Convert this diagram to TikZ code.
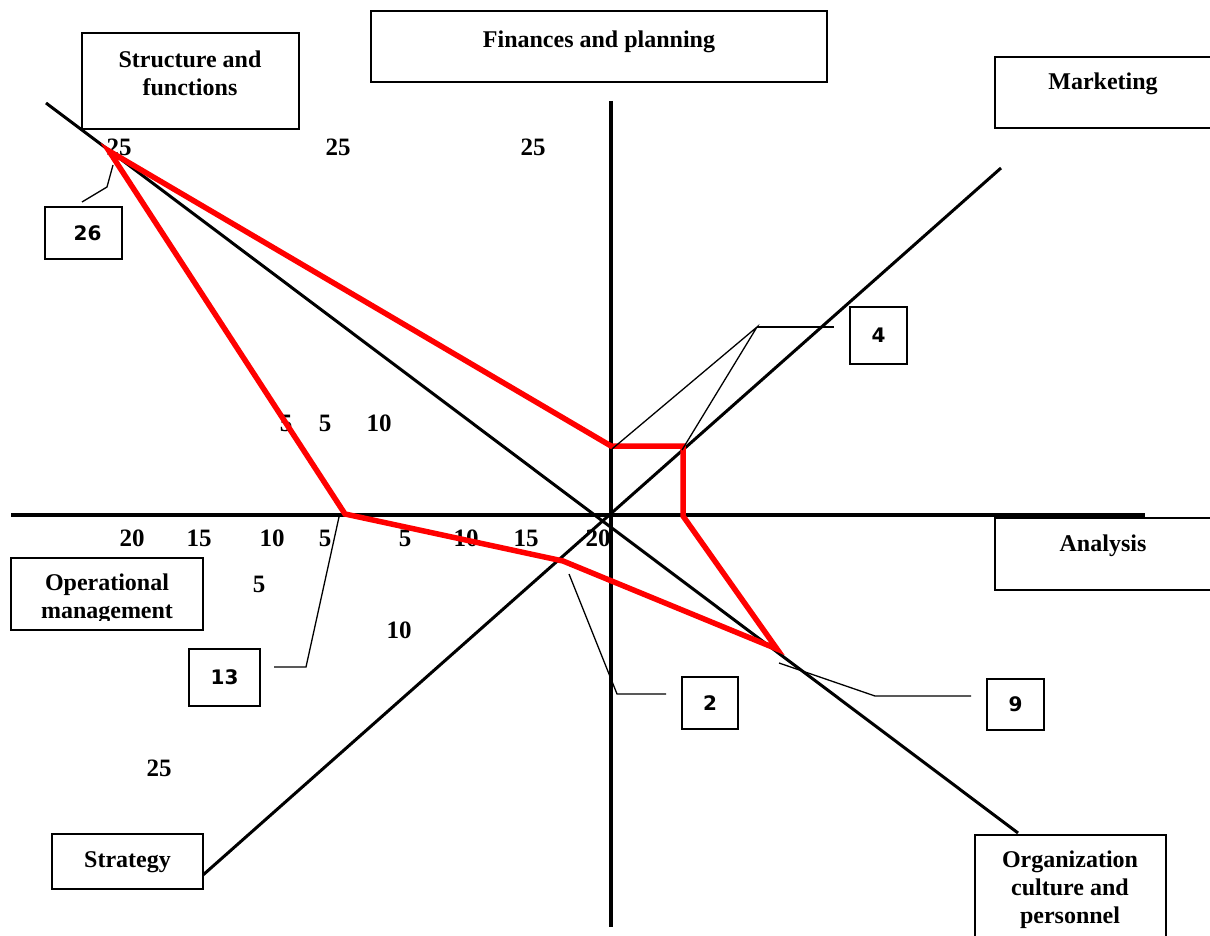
\documentclass[tikz,border=0pt]{standalone}
\usepackage{fontspec}
\setmainfont{Liberation Serif}
\newfontfamily\boxnumfont{DejaVu Sans}
\begin{document}
\begin{tikzpicture}[x=1pt,y=-1pt,
  box/.style={draw, line width=1.8pt, inner sep=0pt, fill=none},
  boxtxt/.style={inner sep=0pt, align=center, font=\fontsize{24}{28}\selectfont\bfseries},
  numtxt/.style={inner sep=0pt, font=\fontsize{25}{28}\selectfont\bfseries},
  smallbox/.style={draw, line width=1.6pt, inner sep=0pt, font=\boxnumfont\fontsize{20}{22}\selectfont\bfseries},
  axisline/.style={draw=black, line width=3.4pt},
  diag/.style={draw=black, line width=3pt},
  redline/.style={draw=red, line width=5.5pt, line join=miter},
  callout/.style={draw=black, line width=1.3pt}
]
\useasboundingbox (0,0) rectangle (1210,936);
\fill[white] (0,0) rectangle (1210,936);

% ---- scale numbers ----
\node[numtxt] (n25a) at (119,147) {25};
\node[numtxt] (n25b) at (338,147) {25};
\node[numtxt] (n25c) at (533,147) {25};
\node[numtxt] (n5a) at (286,423) {5};
\node[numtxt] (n5b) at (325,423) {5};
\node[numtxt] (n10a) at (379,423) {10};
\node[numtxt] (h20l) at (132,538) {20};
\node[numtxt] (h15l) at (199,538) {15};
\node[numtxt] (h10l) at (272,538) {10};
\node[numtxt] (h5l) at (325,538) {5};
\node[numtxt] (h5r) at (405,538) {5};
\node[numtxt] (h10r) at (466,538) {10};
\node[numtxt] (h15r) at (526,538) {15};
\node[numtxt] (h20r) at (598,538) {20};
\node[numtxt] (s5) at (259,584) {5};
\node[numtxt] (s10) at (399,630) {10};
\node[numtxt] (s25) at (159,768) {25};

% ---- axes ----
\coordinate (hL) at (11,515);
\coordinate (hR) at (1145,515);
\coordinate (vT) at (611,101);
\coordinate (vB) at (611,927);
\coordinate (d1a) at (46,103);
\coordinate (d1b) at (1018,833);
\coordinate (d2a) at (203,875);
\coordinate (d2b) at (1001,168);
\draw[axisline] (hL) -- (hR);
\draw[axisline] (vT) -- (vB);
\draw[diag] (d1a) -- (d1b);
\draw[diag] (d2a) -- (d2b);

% ---- category boxes ----
\node[box, minimum width=217pt, minimum height=96pt] (sfbox) at (190.5,81) {};
\node[boxtxt] (sftxt) at (190,73) {Structure and\\functions};

\node[box, minimum width=456pt, minimum height=71pt] (fpbox) at (599,46.5) {};
\node[boxtxt] (fptxt) at (599,42) {Finances and planning};

\node[box, minimum width=220pt, minimum height=71pt] (mkbox) at (1105,92.5) {};
\node[boxtxt] (mktxt) at (1103,84) {Marketing};

\node[box, minimum width=220pt, minimum height=72pt] (anbox) at (1105,554) {};
\node[boxtxt] (antxt) at (1103,546) {Analysis};

\node[box, minimum width=192pt, minimum height=72pt] (ombox) at (107,594) {};
\begin{scope}
  \clip (11,558) rectangle (203,620);
  \node[boxtxt] (omtxt) at (107,599) {Operational\\management};
\end{scope}

\node[box, minimum width=151pt, minimum height=55pt] (stbox) at (127.5,861.5) {};
\node[boxtxt] (sttxt) at (127.5,862) {Strategy};

\node[box, minimum width=191pt, minimum height=110pt] (ocbox) at (1070.5,890) {};
\node[boxtxt] (octxt) at (1070,890) {Organization\\culture and\\personnel};

% ---- profile polygon ----
\coordinate (p1) at (109,151);
\coordinate (p2) at (611,446);
\coordinate (p3) at (683,446);
\coordinate (p4) at (683,516);
\coordinate (p5) at (777,649);
\coordinate (p6) at (563,561);
\coordinate (p7) at (345,514);
\draw[redline] (p1) -- (p2) -- (p3) -- (p4) -- (p5) -- (p6) -- (p7) -- cycle;

% ---- value boxes ----
\node[smallbox, minimum width=77pt, minimum height=52pt] (b26) at (83.5,233) {\hspace{8pt}26};
\node[smallbox, minimum width=57pt, minimum height=57pt] (b4) at (878.5,335.5) {4};
\node[smallbox, minimum width=71pt, minimum height=57pt] (b13) at (224.5,677.5) {13};
\node[smallbox, minimum width=56pt, minimum height=52pt] (b2) at (710,703) {2};
\node[smallbox, minimum width=57pt, minimum height=51pt] (b9) at (1015.5,704.5) {9};

% ---- callouts ----
\coordinate (c26a) at (113,165);
\coordinate (c26b) at (107,187);
\coordinate (c26c) at (82,202);
\draw[callout] (c26a) -- (c26b) -- (c26c);

\coordinate (c4k) at (757,327);
\coordinate (c4e) at (834,327);
\coordinate (c4a) at (612,449);
\coordinate (c4b) at (682,450);
\draw[callout] (c4a) -- (c4k) -- (c4b);
\draw[callout] (c4k) -- (c4e);

\coordinate (c13a) at (339,517);
\coordinate (c13b) at (306,667);
\coordinate (c13c) at (274,667);
\draw[callout] (c13a) -- (c13b) -- (c13c);

\coordinate (c2a) at (569,574);
\coordinate (c2b) at (617,694);
\coordinate (c2c) at (666,694);
\draw[callout] (c2a) -- (c2b) -- (c2c);

\coordinate (c9a) at (779,663);
\coordinate (c9b) at (875,696);
\coordinate (c9c) at (971,696);
\draw[callout] (c9a) -- (c9b) -- (c9c);
\end{tikzpicture}
\end{document}
